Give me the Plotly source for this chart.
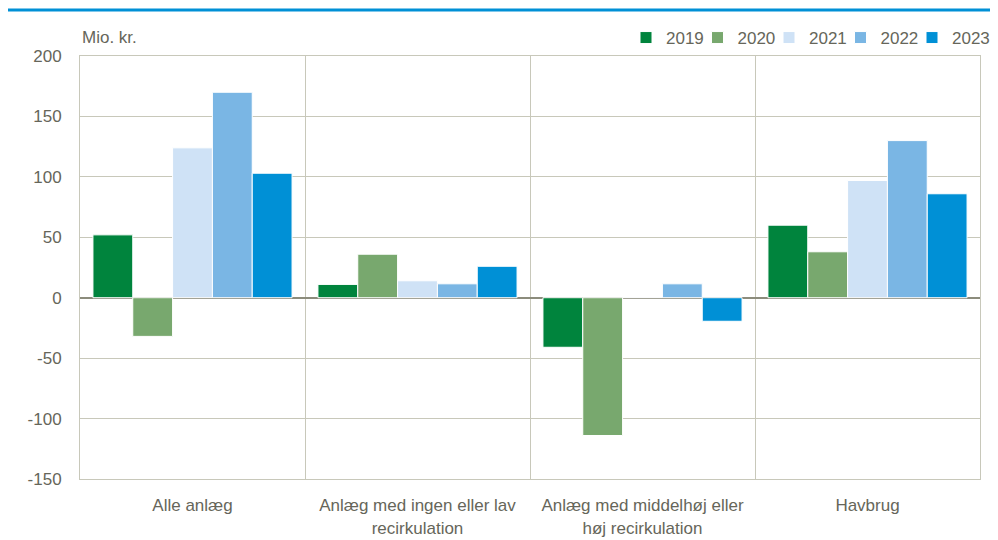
import plotly.graph_objects as go

categories = ["Alle anlæg",
              "Anlæg med ingen eller lav<br>recirkulation",
              "Anlæg med middelhøj eller<br>høj recirkulation",
              "Havbrug"]
years = ["2019", "2020", "2021", "2022", "2023"]
v2019 = [52, 11, -41, 60]
v2020 = [-32, 36, -114, 38]
v2021 = [124, 14, 0.5, 97]
v2022 = [170, 11.5, 11.5, 130]
v2023 = [103, 26, -19.5, 86]
series = [v2019, v2020, v2021, v2022, v2023]
colors = ["#00843D", "#78A86E", "#CFE2F6", "#7AB6E4", "#0090D6"]
yticks = [-150, -100, -50, 0, 50, 100, 150, 200]
yticktext = ["-150", "-100", "-50", "0", "50", "100", "150", "200"]

FONT = "Liberation Sans, Arial, sans-serif"
TXT = "#66665A"
GRID = "#C8C8BA"
FS = 17

# The page body adds an 8px offset, so the figure is 8px smaller in each direction
W, H = 990, 532
legend_ids = ["legend", "legend2", "legend3", "legend4", "legend5"]
legend_left_px = [618, 689.5, 761, 832.5, 904]

fig = go.Figure()
for name, vals, col, lid in zip(years, series, colors, legend_ids):
    fig.add_trace(go.Bar(x=categories, y=vals, name=name, marker_color=col,
                         marker_line_color="white", marker_line_width=1,
                         legend=lid))

legend_common = dict(orientation="h", xref="container", yref="container",
                     xanchor="left", y=1 - 30/H, yanchor="middle",
                     font=dict(size=FS, color=TXT), itemwidth=30, traceorder="normal",
                     borderwidth=0, bgcolor="rgba(0,0,0,0)", tracegroupgap=0)

legends = {lid: dict(legend_common, x=px / W) for lid, px in zip(legend_ids, legend_left_px)}

fig.update_layout(
    width=W, height=H,
    margin=dict(l=72, r=18, t=48, b=61, autoexpand=False),
    paper_bgcolor="white", plot_bgcolor="white",
    barmode="group", bargap=0.115, bargroupgap=0,
    font=dict(family=FONT, size=FS, color=TXT),
    showlegend=True,
    xaxis=dict(type="category", tickson="boundaries", showgrid=True, gridcolor=GRID,
               gridwidth=1, ticks="", showline=True, linecolor=GRID, mirror=True,
               tickangle=0, automargin=False, ticklabelstandoff=11,
               tickfont=dict(size=FS, color=TXT)),
    yaxis=dict(range=[-150, 200], tickvals=yticks, ticktext=yticktext,
               showgrid=True, gridcolor=GRID,
               gridwidth=1, zeroline=True, zerolinecolor="#8C8C7C", zerolinewidth=2,
               showline=True, linecolor=GRID, mirror=True, ticks="",
               automargin=False, ticklabelstandoff=14,
               tickfont=dict(size=FS, color=TXT)),
    annotations=[dict(text="Mio. kr.", x=0, xref="paper", y=1.0, yref="paper",
                      xanchor="left", yanchor="bottom", yshift=7, showarrow=False,
                      font=dict(size=FS, color=TXT))],
    shapes=[dict(type="line", xref="paper", yref="paper",
                 x0=-72/900, x1=1 + 18/900,
                 y0=1 + 46/423, y1=1 + 46/423,
                 line=dict(color="#0090D6", width=3))],
)
fig.update_layout(**legends)
fig.write_html("out.html")
